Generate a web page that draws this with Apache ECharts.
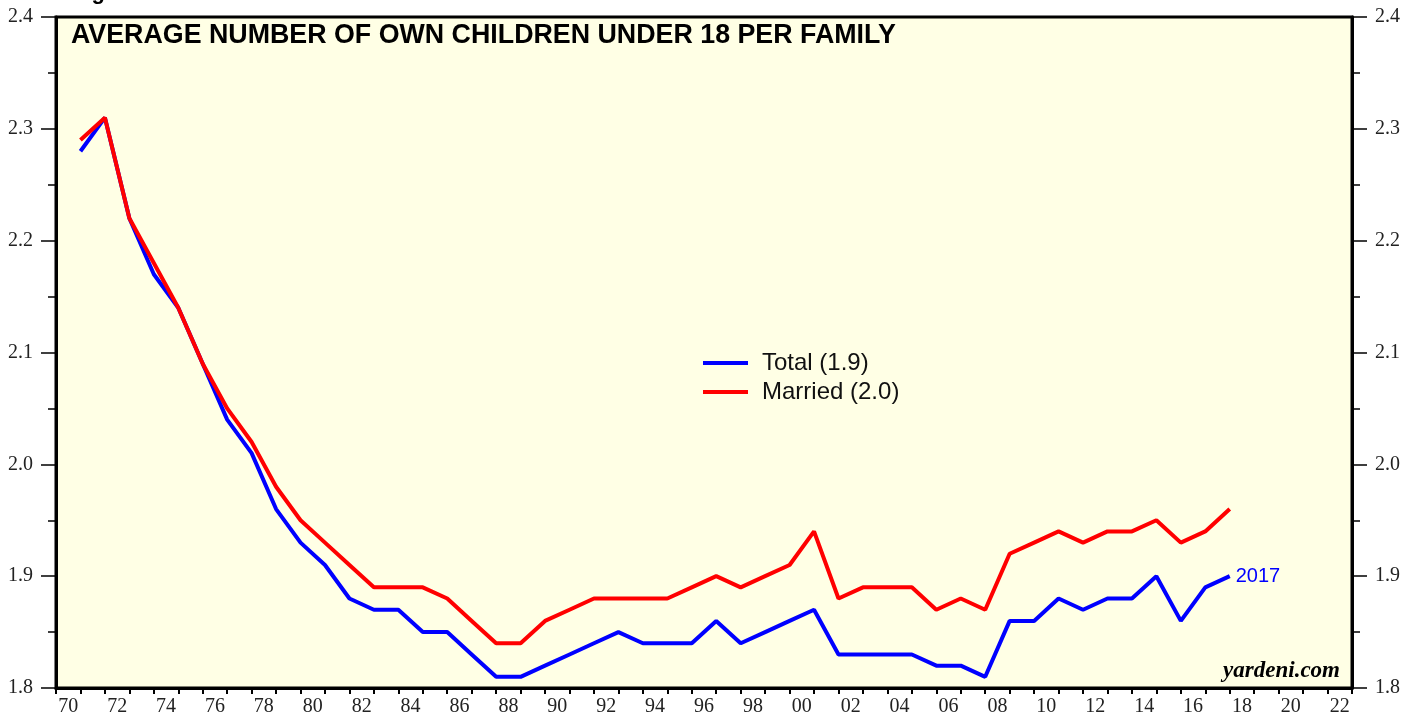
<!DOCTYPE html>
<html>
<head>
<meta charset="utf-8">
<script src="https://cdn.jsdelivr.net/npm/echarts@6/dist/echarts.min.js"></script>
<style>
html,body{margin:0;padding:0;background:#fff;}
#chart{width:1417px;height:719px;}
</style>
</head>
<body>
<div id="chart"></div>
<script>
// Axis categories (slots) and tick labels
var axisYears = [];
for (var y = 1970; y <= 2022; y++) axisYears.push(y);
var tickLabels = axisYears.map(function (y) { return String(y % 100).padStart(2, '0'); });

// Data years and values
var years = [1970,1971,1972,1973,1974,1975,1976,1977,1978,1979,
             1980,1981,1982,1983,1984,1985,1986,1987,1988,1989,
             1990,1991,1992,1993,1994,1995,1996,1997,1998,1999,
             2000,2001,2002,2003,2004,2005,2006,2007,2008,2009,
             2010,2011,2012,2013,2014,2015,2016,2017];
var total = [2.28,2.31,2.22,2.17,2.14,2.09,2.04,2.01,1.96,1.93,
             1.91,1.88,1.87,1.87,1.85,1.85,1.83,1.81,1.81,1.82,
             1.83,1.84,1.85,1.84,1.84,1.84,1.86,1.84,1.85,1.86,
             1.87,1.83,1.83,1.83,1.83,1.82,1.82,1.81,1.86,1.86,
             1.88,1.87,1.88,1.88,1.90,1.86,1.89,1.90];
var married = [2.29,2.31,2.22,2.18,2.14,2.09,2.05,2.02,1.98,1.95,
               1.93,1.91,1.89,1.89,1.89,1.88,1.86,1.84,1.84,1.86,
               1.87,1.88,1.88,1.88,1.88,1.89,1.90,1.89,1.90,1.91,
               1.94,1.88,1.89,1.89,1.89,1.87,1.88,1.87,1.92,1.93,
               1.94,1.93,1.94,1.94,1.95,1.93,1.94,1.96];
var yTicks = [1.8,1.9,2.0,2.1,2.2,2.3,2.4];

function pairs(vals) { return years.map(function (y, i) { return [y, vals[i]]; }); }

var serifFont = '"Liberation Serif", "DejaVu Serif", serif';
var sansFont = '"Liberation Sans", Arial, sans-serif';

var yAxisCommon = {
  type: 'value', min: yTicks[0], max: yTicks[yTicks.length - 1], interval: 0.1,
  splitLine: { show: false },
  axisLine: { show: true, lineStyle: { color: '#000', width: 3 } },
  axisTick: { show: true, inside: false, length: 15, lineStyle: { color: '#000', width: 1.5 } },
  minorTick: { show: true, splitNumber: 2, length: 8, lineStyle: { color: '#000', width: 1.5 } },
  axisLabel: { fontFamily: serifFont, fontSize: 20, color: '#222', margin: 23,
               formatter: function (v) { return v.toFixed(1); } }
};

var chart = echarts.init(document.getElementById('chart'));
chart.setOption({
  animation: false,
  backgroundColor: '#ffffff',
  grid: { left: 56, right: 65, top: 17, bottom: 31, show: true,
          backgroundColor: '#ffffe5', borderColor: '#000', borderWidth: 3 },
  xAxis: [
    { type: 'category', data: tickLabels, boundaryGap: true, position: 'bottom',
      axisLine: { show: true, lineStyle: { color: '#000', width: 3 } },
      axisTick: { show: true, interval: 0, length: 6, lineStyle: { color: '#000', width: 2 } },
      axisLabel: { interval: 1, fontFamily: serifFont, fontSize: 20, color: '#222', margin: 9 },
      splitLine: { show: false } },
    { type: 'value', min: axisYears[0] - 1, max: axisYears[axisYears.length - 1], show: false,
      splitLine: { show: false } }
  ],
  yAxis: [
    Object.assign({}, yAxisCommon, { position: 'left' }),
    Object.assign({}, yAxisCommon, { position: 'right' })
  ],
  legend: {
    orient: 'vertical', left: 703, top: 351, padding: 0, itemWidth: 45, itemHeight: 4, itemGap: 5,
    icon: 'rect',
    textStyle: { fontFamily: sansFont, fontSize: 24, color: '#111', padding: [0, 0, 0, 9] },
    data: ['Total (1.9)', 'Married (2.0)']
  },
  graphic: [
    { type: 'text', left: 71, top: 22, z: 100,
      style: { text: 'AVERAGE NUMBER OF OWN CHILDREN UNDER 18 PER FAMILY',
               font: 'bold 26.8px ' + sansFont, fill: '#000' } },
    { type: 'text', right: 1417 - 1340, top: 660, z: 100,
      style: { text: 'yardeni.com', font: 'italic bold 23px ' + serifFont, fill: '#000' } },
    { type: 'text', left: 72, top: -18, z: 100,
      style: { text: 'Figure 5.', font: 'bold 22px ' + sansFont, fill: '#000' } }
  ],
  series: [
    { name: 'Total (1.9)', type: 'line', xAxisIndex: 1, yAxisIndex: 0, data: pairs(total),
      showSymbol: false, symbol: 'none', lineStyle: { color: '#0000ff', width: 4 },
      itemStyle: { color: '#0000ff' }, z: 2,
      endLabel: { show: true, formatter: '2017', color: '#0000ff', fontFamily: sansFont, fontSize: 20, distance: 6 } },
    { name: 'Married (2.0)', type: 'line', xAxisIndex: 1, yAxisIndex: 0, data: pairs(married),
      showSymbol: false, symbol: 'none', lineStyle: { color: '#ff0000', width: 4 },
      itemStyle: { color: '#ff0000' }, z: 3 }
  ]
});
</script>
</body>
</html>
